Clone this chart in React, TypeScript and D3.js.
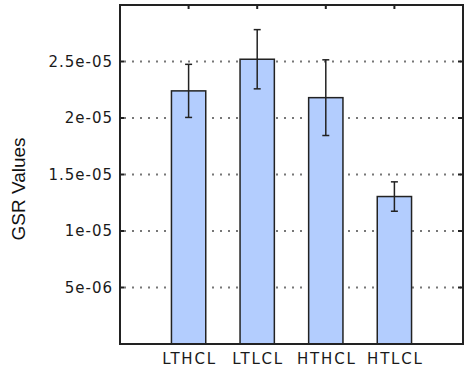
import React, { useEffect, useRef } from "react";
import * as d3 from "d3";

const categories = ["LTHCL", "LTLCL", "HTHCL", "HTLCL"];
const means = [2.24e-5, 2.52e-5, 2.18e-5, 1.305e-5];
const errors = [0.235e-5, 0.262e-5, 0.335e-5, 0.13e-5];
const yTicks = [5e-6, 1e-5, 1.5e-5, 2e-5, 2.5e-5];
const yTickLabels = ["5e-06", "1e-05", "1.5e-05", "2e-05", "2.5e-05"];

const W = 465;
const H = 370;
const margin = { top: 5, right: 2, bottom: 26, left: 120 };

const App = () => {
  const svgRef = useRef<SVGSVGElement>(null);

  useEffect(() => {
    const svg = d3.select(svgRef.current);
    svg.selectAll("*").remove();

    const x0 = margin.left;
    const x1 = W - margin.right;
    const y0 = H - margin.bottom;
    const y1 = margin.top;

    // categories sit at 1..4 on a 0..5 axis
    const x = d3.scaleLinear().domain([0, categories.length + 1]).range([x0, x1]);
    const y = d3.scaleLinear().domain([0, 3e-5]).range([y0, y1]);
    const barW = x(0.5) - x(0);

    // dotted grid
    svg.append("g")
      .selectAll("line")
      .data(yTicks)
      .enter()
      .append("line")
      .attr("x1", x0 + 4)
      .attr("x2", x1 - 2)
      .attr("y1", d => y(d))
      .attr("y2", d => y(d))
      .attr("stroke", "#777")
      .attr("stroke-width", 2)
      .attr("stroke-dasharray", "2 6");

    // bars
    svg.append("g")
      .selectAll("rect")
      .data(means)
      .enter()
      .append("rect")
      .attr("x", (d, i) => x(i + 1) - barW / 2)
      .attr("y", d => y(d))
      .attr("width", barW)
      .attr("height", d => y0 - y(d))
      .attr("fill", "#b3cdfe")
      .attr("stroke", "#222")
      .attr("stroke-width", 1.5);

    // error bars
    const eb = svg.append("g").attr("stroke", "#222").attr("stroke-width", 1.5);
    means.forEach((m, i) => {
      const cx = x(i + 1);
      const top = y(m + errors[i]);
      const bot = y(m - errors[i]);
      eb.append("line").attr("x1", cx).attr("x2", cx).attr("y1", top).attr("y2", bot);
      eb.append("line").attr("x1", cx - 3.5).attr("x2", cx + 3.5).attr("y1", top).attr("y2", top);
      eb.append("line").attr("x1", cx - 3.5).attr("x2", cx + 3.5).attr("y1", bot).attr("y2", bot);
    });

    // frame
    svg.append("rect")
      .attr("x", x0)
      .attr("y", y1)
      .attr("width", x1 - x0)
      .attr("height", y0 - y1)
      .attr("fill", "none")
      .attr("stroke", "#222")
      .attr("stroke-width", 2);

    // inward ticks
    const tk = svg.append("g").attr("stroke", "#222").attr("stroke-width", 2);
    yTicks.forEach(t => {
      tk.append("line").attr("x1", x0).attr("x2", x0 + 4).attr("y1", y(t)).attr("y2", y(t));
      tk.append("line").attr("x1", x1).attr("x2", x1 - 5).attr("y1", y(t)).attr("y2", y(t));
    });
    categories.forEach((c, i) => {
      tk.append("line").attr("x1", x(i + 1)).attr("x2", x(i + 1)).attr("y1", y1).attr("y2", y1 + 4);
    });

    // y tick labels
    svg.append("g")
      .selectAll("text")
      .data(yTicks)
      .enter()
      .append("text")
      .attr("x", x0 - 7)
      .attr("y", d => y(d))
      .attr("dy", "0.36em")
      .attr("text-anchor", "end")
      .attr("font-family", "DejaVu Sans")
      .attr("font-size", 15)
      .attr("letter-spacing", 1)
      .attr("fill", "#1a1a1a")
      .text((d, i) => yTickLabels[i]);

    // category labels
    svg.append("g")
      .selectAll("text")
      .data(categories)
      .enter()
      .append("text")
      .attr("x", (d, i) => x(i + 1) + 1)
      .attr("y", y0 + 20)
      .attr("text-anchor", "middle")
      .attr("font-family", "DejaVu Sans")
      .attr("font-size", 15)
      .attr("letter-spacing", 1.8)
      .attr("fill", "#1a1a1a")
      .text(d => d);

    // y axis title
    svg.append("text")
      .attr("transform", `translate(25, 189) rotate(-90)`)
      .attr("text-anchor", "middle")
      .attr("font-family", "Liberation Sans")
      .attr("font-size", 19)
      .attr("fill", "#111")
      .text("GSR Values");
  }, []);

  return (
    <svg
      ref={svgRef}
      width={W}
      height={H}
      style={{ position: "absolute", left: 0, top: 0, background: "#fff" }}
    />
  );
};

export default App;
